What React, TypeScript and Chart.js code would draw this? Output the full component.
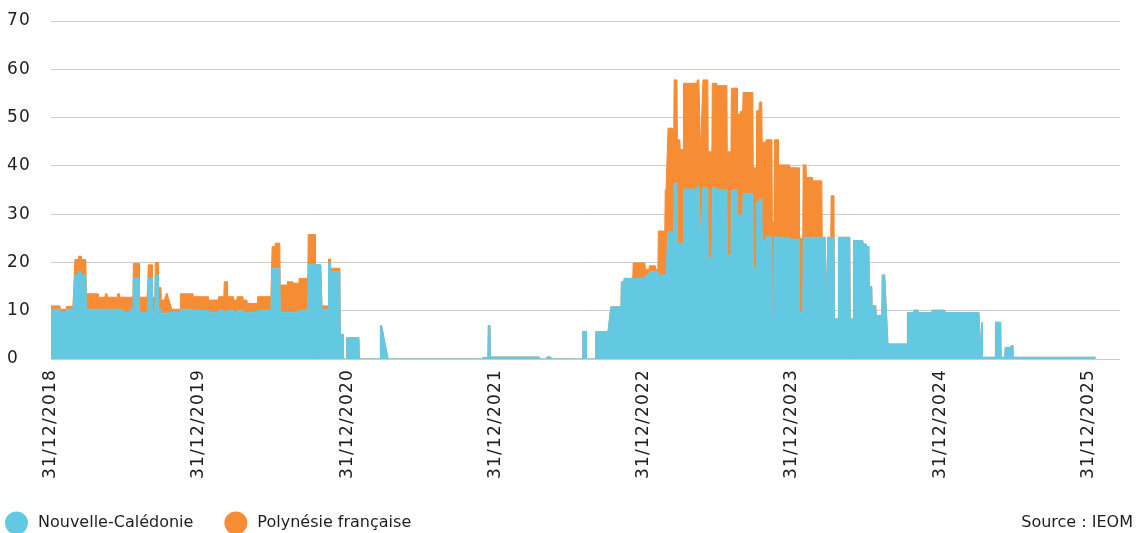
import React, { useEffect, useRef } from 'react';
import { Chart, registerables } from 'chart.js';

Chart.register(...registerables);

// x positions are days since 31/12/2018
const TICK_DAYS = [0, 365, 731, 1096, 1461, 1826, 2192, 2557];
const TICK_LABELS = ['31/12/2018', '31/12/2019', '31/12/2020', '31/12/2021', '31/12/2022', '31/12/2023', '31/12/2024', '31/12/2025'];
const SERIES_NAMES = ['Nouvelle-Calédonie', 'Polynésie française'];
const SOURCE_TEXT = 'Source : IEOM';
const Y_MAX = 70;
const X_MAX = 2635;

// Each period: first day, last day, value for Nouvelle-Calédonie, value for Polynésie française
const segStart = [0, 23, 38, 59, 68, 75, 87, 117, 134, 139, 164, 169, 178, 193, 203, 218, 238, 240, 250, 257, 265, 272, 285, 298, 319, 351, 388, 413, 427, 435, 450, 459, 474, 484, 509, 545, 553, 565, 583, 597, 612, 634, 652, 668, 684, 689, 713, 721, 729, 760, 812, 831, 1065, 1078, 1083, 1204, 1222, 1233, 1311, 1320, 1343, 1380, 1406, 1413, 1435, 1465, 1475, 1490, 1497, 1514, 1521, 1532, 1536, 1544, 1551, 1559, 1593, 1601, 1607, 1620, 1630, 1642, 1667, 1677, 1692, 1699, 1706, 1731, 1739, 1746, 1753, 1763, 1778, 1783, 1793, 1822, 1845, 1854, 1862, 1877, 1901, 1913, 1915, 1923, 1931, 1941, 1970, 1978, 2002, 2010, 2017, 2024, 2034, 2049, 2063, 2111, 2126, 2138, 2172, 2204, 2292, 2294, 2296, 2328, 2342, 2352, 2367, 2372];
const segEnd = [22, 37, 54, 67, 74, 86, 116, 133, 138, 163, 168, 177, 192, 202, 217, 237, 239, 249, 256, 264, 271, 279, 286, 318, 350, 387, 412, 426, 434, 449, 458, 473, 483, 508, 542, 552, 564, 582, 596, 611, 633, 651, 665, 683, 688, 712, 720, 728, 759, 811, 815, 1064, 1077, 1082, 1203, 1221, 1232, 1310, 1319, 1342, 1373, 1405, 1412, 1434, 1464, 1474, 1489, 1496, 1513, 1516, 1531, 1535, 1543, 1550, 1558, 1592, 1597, 1602, 1619, 1629, 1641, 1666, 1676, 1691, 1698, 1705, 1730, 1738, 1745, 1752, 1762, 1777, 1782, 1792, 1821, 1844, 1853, 1861, 1876, 1900, 1908, 1914, 1922, 1930, 1940, 1969, 1977, 2001, 2009, 2016, 2023, 2033, 2048, 2055, 2110, 2125, 2137, 2171, 2203, 2287, 2293, 2295, 2327, 2341, 2351, 2366, 2371, 2575];
const ncValues = [10.3, 9.7, 10.3, 17.4, 18.1, 17.4, 10.3, 10.3, 10.3, 10.3, 10.3, 10.3, 9.7, 10.3, 16.8, 9.7, 10.3, 16.8, 9.7, 17.4, 10.3, 9.5, 9.5, 9.7, 10.3, 10.1, 9.7, 10.1, 9.7, 10.1, 9.7, 10.1, 9.7, 9.7, 10.1, 18.8, 18.8, 9.7, 9.7, 9.7, 10.1, 19.5, 19.5, 10.3, 19.9, 18.1, 5.1, 0, 4.4, 0, 6.9, 0, 0.3, 6.9, 0.4, 0, 0.4, 0, 5.7, 0, 5.7, 10.8, 16.0, 16.7, 16.7, 17.4, 18.1, 18.1, 17.4, 17.4, 26.4, 26.0, 36.4, 24.0, 24.0, 35.2, 35.7, 24.3, 35.5, 20.8, 35.5, 35.1, 21.5, 35.1, 29.8, 29.8, 34.3, 18.8, 32.4, 33.1, 24.6, 25.3, 8.4, 25.3, 25.2, 24.8, 9.7, 25.2, 25.2, 25.2, 25.2, 10.7, 25.2, 25.2, 8.3, 25.2, 8.3, 24.5, 23.8, 23.3, 15.0, 11.0, 9.0, 17.4, 3.1, 9.6, 10.1, 9.6, 10.1, 9.6, 2.0, 7.5, 0.35, 7.6, 0.35, 2.4, 2.8, 0.35];
const pfValues = [0.7, 0.6, 0.6, 3.2, 3.2, 3.2, 3.2, 2.5, 3.2, 2.5, 3.2, 2.5, 3.1, 2.5, 3.0, 3.1, 2.5, 2.7, 3.1, 2.6, 4.5, 2.7, 4.1, 0.6, 3.2, 2.8, 2.5, 2.8, 6.3, 2.8, 2.5, 2.8, 2.5, 1.8, 2.8, 4.5, 5.2, 5.6, 6.3, 6.0, 6.6, 6.3, 0, 0.7, 0.8, 0.7, 0, 0, 0, 0, 0, 0, 0, 0, 0, 0, 0, 0, 0, 0, 0, 0, 0, 0, 3.2, 1.2, 1.2, 0.5, 9.1, 17.6, 21.4, 21.4, 21.4, 21.4, 19.4, 21.9, 22.1, 18.6, 22.3, 22.1, 21.6, 21.5, 21.4, 21.0, 20.9, 21.5, 20.9, 20.8, 19.0, 20.1, 20.3, 20.1, 20.0, 20.1, 15.0, 14.8, 15.3, 15.0, 12.4, 11.7, 0, 0, 0, 8.6, 0, 0, 0, 0, 0, 0, 0, 0, 0, 0, 0, 0, 0, 0, 0, 0, 0, 0, 0, 0, 0, 0, 0, 0];

const NC_COLOR = 'rgb(99, 201, 227)';
const PF_COLOR = 'rgb(246, 140, 52)';
const TEXT_COLOR = '#1e1e1e';
const FONT_FAMILY = '"DejaVu Sans", sans-serif';

function buildPoints(values: number[]) {
  const pts: { x: number; y: number }[] = [];
  for (let i = 0; i < segStart.length; i++) {
    pts.push({ x: segStart[i], y: values[i] });
    if (segEnd[i] !== segStart[i]) pts.push({ x: segEnd[i], y: values[i] });
  }
  return pts;
}

const spacingPlugin = {
  id: 'axisLetterSpacing',
  beforeDraw(chart: any) {
    (chart.ctx as any).letterSpacing = '1.2px';
  },
  beforeDatasetsDraw(chart: any) {
    (chart.ctx as any).letterSpacing = '0px';
  },
};

const legendPlugin = {
  id: 'customLegend',
  afterDraw(chart: any) {
    const ctx = chart.ctx as CanvasRenderingContext2D;
    ctx.save();
    (ctx as any).letterSpacing = '0px';
    ctx.font = `16px ${FONT_FAMILY}`;
    ctx.textBaseline = 'middle';
    ctx.fillStyle = TEXT_COLOR;
    const cy = 523;
    const r = 11.5;
    const colors = [NC_COLOR, PF_COLOR];
    let x = 5;
    SERIES_NAMES.forEach((name, i) => {
      ctx.beginPath();
      ctx.fillStyle = colors[i];
      ctx.arc(x + r, cy, r, 0, Math.PI * 2);
      ctx.fill();
      ctx.fillStyle = TEXT_COLOR;
      ctx.textAlign = 'left';
      const tx = x + 2 * r + 10;
      ctx.fillText(name, tx, cy);
      x = tx + ctx.measureText(name).width + 31;
    });
    ctx.textAlign = 'right';
    ctx.fillText(SOURCE_TEXT, 1133, cy);
    ctx.restore();
  },
};

export default function App() {
  const canvasRef = useRef<HTMLCanvasElement | null>(null);

  useEffect(() => {
    if (!canvasRef.current) return;
    Chart.defaults.font.family = FONT_FAMILY;
    const chart = new Chart(canvasRef.current, {
      type: 'line',
      data: {
        datasets: [
          {
            label: SERIES_NAMES[0],
            data: buildPoints(ncValues),
            backgroundColor: NC_COLOR,
            borderColor: NC_COLOR,
            borderWidth: 1,
            fill: 'origin',
            pointRadius: 0,
            tension: 0,
          },
          {
            label: SERIES_NAMES[1],
            data: buildPoints(pfValues),
            backgroundColor: PF_COLOR,
            borderColor: PF_COLOR,
            borderWidth: 1,
            fill: '-1',
            pointRadius: 0,
            tension: 0,
          },
        ],
      },
      options: {
        responsive: false,
        animation: false,
        events: [],
        layout: { padding: { top: 21, right: 16, left: 7, bottom: 0 } },
        plugins: { legend: { display: false }, tooltip: { enabled: false } },
        scales: {
          x: {
            type: 'linear',
            min: 0,
            max: X_MAX,
            grid: { display: false },
            border: { display: false },
            afterBuildTicks: (s: any) => {
              s.ticks = TICK_DAYS.map((v) => ({ value: v }));
            },
            afterFit: (s: any) => {
              s.height = 174;
            },
            ticks: {
              autoSkip: false,
              minRotation: 90,
              maxRotation: 90,
              padding: 2,
              color: TEXT_COLOR,
              font: { size: 17, family: FONT_FAMILY },
              callback: (_v: any, i: number) => TICK_LABELS[i],
            },
          },
          y: {
            stacked: true,
            min: 0,
            max: Y_MAX,
            afterFit: (s: any) => {
              s.width = 44;
            },
            grid: { color: '#cccccc', drawTicks: false, lineWidth: 1 },
            border: { display: false },
            ticks: {
              stepSize: 10,
              crossAlign: 'far',
              color: TEXT_COLOR,
              font: { size: 17, family: FONT_FAMILY },
            },
          },
        },
      },
      plugins: [spacingPlugin, legendPlugin],
    } as any);
    return () => chart.destroy();
  }, []);

  return (
    <div style={{ position: 'absolute', left: 0, top: 0, width: 1136, height: 533 }}>
      <canvas ref={canvasRef} width={1136} height={533} />
    </div>
  );
}
